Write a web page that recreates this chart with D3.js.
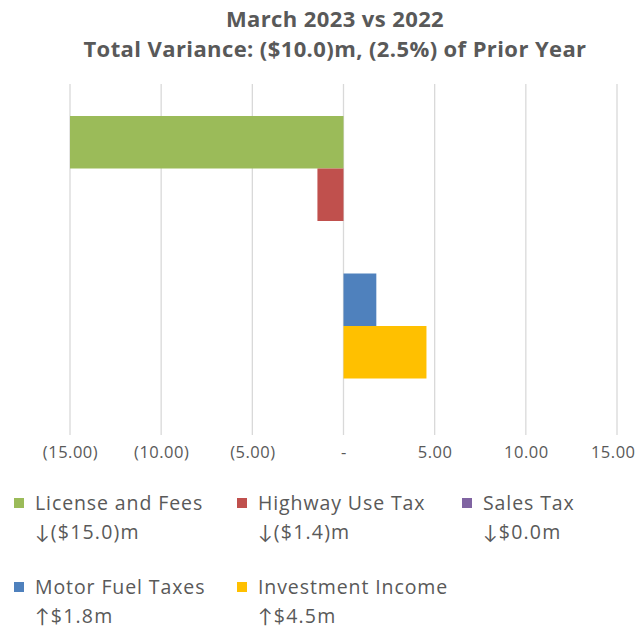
<!DOCTYPE html>
<html>
<head>
<meta charset="utf-8">
<script src="https://cdn.jsdelivr.net/npm/d3@7"></script>
<style>
  html, body { margin: 0; padding: 0; background: #fff; }
  svg { display: block; font-family: "Open Sans", Lato, sans-serif; }
</style>
</head>
<body>
<svg id="chart" width="636" height="628"></svg>
<script>
// Variance by revenue source, $ millions
const seriesNames = ["License and Fees", "Highway Use Tax", "Sales Tax", "Motor Fuel Taxes", "Investment Income"];
const seriesValues = [-15.0, -1.43, 0.0, 1.8, 4.55];
const seriesLabels = ["↓($15.0)m", "↓($1.4)m", "↓$0.0m", "↑$1.8m", "↑$4.5m"];
const seriesColors = ["#9BBB59", "#C0504D", "#8064A2", "#4F81BD", "#FFC000"];
const tickValues = [-15, -10, -5, 0, 5, 10, 15];
const titleLines = ["March 2023 vs 2022", "Total Variance: ($10.0)m, (2.5%) of Prior Year"];

const width = 636, height = 628;
const svg = d3.select("#chart");
const textColor = "#595959";

const plot = { left: 70, right: 617, top: 84, bottom: 435 };

const x = d3.scaleLinear().domain([-15, 15]).range([plot.left, plot.right]);
const y = d3.scaleBand().domain(seriesNames).range([116, 378.5]).padding(0);

// title
svg.append("g").selectAll("text")
  .data(titleLines)
  .join("text")
  .attr("x", 335)
  .attr("y", (d, i) => 27 + i * 30)
  .attr("text-anchor", "middle")
  .attr("font-weight", "bold")
  .attr("font-size", 22)
  .attr("letter-spacing", 0.4)
  .attr("fill", textColor)
  .text(d => d);

// vertical gridlines
svg.append("g").selectAll("line")
  .data(tickValues)
  .join("line")
  .attr("x1", d => x(d)).attr("x2", d => x(d))
  .attr("y1", plot.top).attr("y2", plot.bottom)
  .attr("stroke", "#D9D9D9")
  .attr("stroke-width", 1.3);

// bars
svg.append("g").selectAll("rect")
  .data(seriesNames.map((n, i) => ({ name: n, value: seriesValues[i], color: seriesColors[i] })))
  .join("rect")
  .attr("x", d => Math.min(x(0), x(d.value)))
  .attr("width", d => Math.abs(x(d.value) - x(0)))
  .attr("y", d => y(d.name))
  .attr("height", y.bandwidth())
  .attr("fill", d => d.color);

// value axis labels
const fmt = v => v === 0 ? "-" : v < 0 ? "(" + d3.format(".2f")(-v) + ")" : d3.format(".2f")(v);
const axis = d3.axisBottom(x).tickValues(tickValues).tickFormat(fmt).tickSize(0).tickPadding(0);
const axisG = svg.append("g").attr("transform", `translate(0,${plot.bottom + 11})`).call(axis);
axisG.select(".domain").remove();
axisG.selectAll("text")
  .attr("font-family", "'Open Sans', Lato, sans-serif")
  .attr("font-size", 16.5)
  .attr("letter-spacing", 0.5)
  .attr("fill", textColor);
// keep the outermost label inside the drawing
axisG.selectAll(".tick text").each(function () {
  const box = this.getBBox();
  const tickX = x(d3.select(this.parentNode).datum());
  const overflow = tickX + box.x + box.width - (width - 1);
  if (overflow > 0) d3.select(this).attr("dx", -overflow);
});

// legend
const legendPos = [
  { mx: 14, tx: 35, y: 510 },
  { mx: 237, tx: 258, y: 510 },
  { mx: 462, tx: 483, y: 510 },
  { mx: 14, tx: 35, y: 594 },
  { mx: 237, tx: 258, y: 594 }
];
const legend = svg.append("g").selectAll("g")
  .data(seriesNames.map((n, i) => ({ name: n, label: seriesLabels[i], color: seriesColors[i], pos: legendPos[i] })))
  .join("g");
legend.append("rect")
  .attr("x", d => d.pos.mx)
  .attr("y", d => d.pos.y - 12)
  .attr("width", 10).attr("height", 10)
  .attr("fill", d => d.color);
legend.append("text")
  .attr("x", d => d.pos.tx)
  .attr("y", d => d.pos.y)
  .attr("font-size", 19.5)
  .attr("letter-spacing", 0.9)
  .attr("fill", textColor)
  .text(d => d.name);
legend.append("text")
  .attr("x", d => d.pos.tx)
  .attr("y", d => d.pos.y + 29)
  .attr("font-size", 19.5)
  .attr("letter-spacing", 1.2)
  .attr("fill", textColor)
  .text(d => d.label);
</script>
</body>
</html>
